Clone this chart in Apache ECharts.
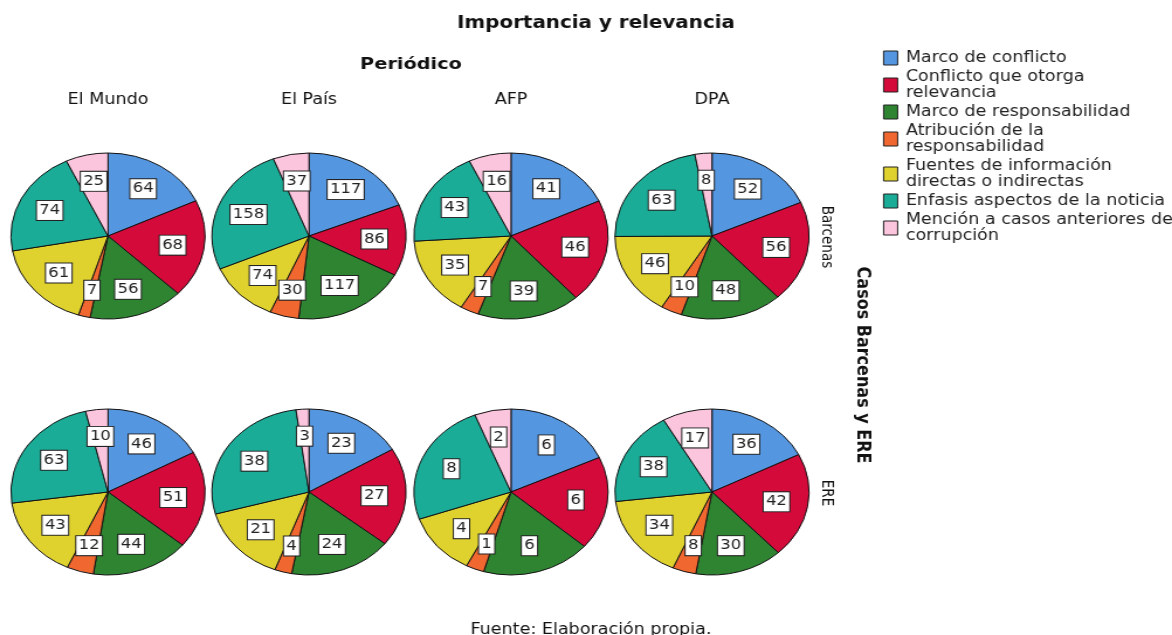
<!DOCTYPE html>
<html><head><meta charset="utf-8">
<script src="https://cdn.jsdelivr.net/npm/echarts@6/dist/echarts.min.js"></script>
<style>html,body{margin:0;padding:0;background:#fff;overflow:hidden}
#wrap{width:1172px;height:635px;overflow:hidden}
#c{width:1002px;height:635px;transform:scaleX(1.1697);transform-origin:0 0}</style>
</head><body><div id="wrap"><div id="c"></div></div>
<script>
const categories = ["Marco de conflicto","Conflicto que otorga\nrelevancia","Marco de responsabilidad","Atribución de la\nresponsabilidad","Fuentes de información\ndirectas o indirectas","Enfasis aspectos de la noticia","Mención a casos anteriores de\ncorrupción"];
const colors = ["#5596e1","#d40a3a","#2e8431","#f06830","#e0d22e","#1bac97","#fbc5dd"];
const periodicos = ["El Mundo","El País","AFP","DPA"];
const casos = ["Barcenas","ERE"];
const barcenas_ElMundo = [64,68,56,7,61,74,25];
const barcenas_ElPais = [117,86,117,30,74,158,37];
const barcenas_AFP = [41,46,39,7,35,43,16];
const barcenas_DPA = [52,56,48,10,46,63,8];
const ere_ElMundo = [46,51,44,12,43,63,10];
const ere_ElPais = [23,27,24,4,21,38,3];
const ere_AFP = [6,6,6,1,4,8,2];
const ere_DPA = [36,42,30,8,34,38,17];

const S = 1.1697; // horizontal stretch of the whole figure
const grid = [[barcenas_ElMundo,barcenas_ElPais,barcenas_AFP,barcenas_DPA],[ere_ElMundo,ere_ElPais,ere_AFP,ere_DPA]];
const colX = [108,309,511,712].map(x=>x/S);
const rowY = [236,492];
const R = 83;
const FONT = "DejaVu Sans";

const series = [];
const overlays = [];
grid.forEach((row, ri) => row.forEach((vals, ci) => {
  const data = vals.map((v,i)=>({name:categories[i], value:v, itemStyle:{color:colors[i]}}));
  series.push({
    type:'pie', center:[colX[ci], rowY[ri]], radius:R, startAngle:90, clockwise:true,
    avoidLabelOverlap:false, animation:false, silent:true,
    itemStyle:{borderColor:'#111', borderWidth:1},
    label:{show:false}, labelLine:{show:false},
    data
  });
  overlays.push({
    type:'pie', center:[colX[ci], rowY[ri]], radius:[23,R], startAngle:90, clockwise:true,
    avoidLabelOverlap:false, animation:false, silent:true,
    itemStyle:{color:'rgba(0,0,0,0)', borderWidth:0},
    label:{show:true, position:'inside', formatter:'{c}', fontFamily:FONT, fontSize:14, color:'#222',
      backgroundColor:'#fff', borderColor:'#222', borderWidth:1, padding:[3,2,2,2]},
    labelLine:{show:false},
    data: vals.map((v,i)=>({name:categories[i], value:v}))
  });
}));

const graphic = [
  {type:'text', x:596/S, y:23.5, style:{text:'Importancia y relevancia', font:'bold 17px "DejaVu Sans"', fill:'#111', align:'center', verticalAlign:'middle'}},
  {type:'text', x:411/S, y:64.5, style:{text:'Periódico', font:'bold 16.5px "DejaVu Sans"', fill:'#111', align:'center', verticalAlign:'middle'}},
  {type:'text', x:591/S, y:630, style:{text:'Fuente: Elaboración propia.', font:'15px "DejaVu Sans"', fill:'#111', align:'center', verticalAlign:'middle'}},
  {type:'text', x:862/S, y:365, rotation:-Math.PI/2, style:{text:'Casos Barcenas y ERE', font:'bold 16px "DejaVu Sans"', fill:'#111', align:'center', verticalAlign:'middle'}}
];
periodicos.forEach((p,i)=>graphic.push({type:'text', x:colX[i], y:100.5, style:{text:p, font:'15px "DejaVu Sans"', fill:'#111', align:'center', verticalAlign:'middle'}}));
casos.forEach((c,i)=>graphic.push({type:'text', x:826/S, y:rowY[i]+1, rotation:-Math.PI/2, style:{text:c, font:'13.5px "DejaVu Sans"', fill:'#111', align:'center', verticalAlign:'middle'}}));

const chart = echarts.init(document.getElementById('c'));
chart.setOption({
  animation:false,
  color: colors,
  textStyle:{fontFamily:FONT},
  legend:{
    orient:'vertical', left:883/S, top:50, padding:0, itemWidth:12, itemHeight:14, itemGap:3,
    icon:'rect', selectedMode:false,
    itemStyle:{borderColor:'#222', borderWidth:1},
    textStyle:{fontFamily:FONT, fontSize:15, color:'#222', lineHeight:16, padding:[0,0,0,2]},
    data: categories
  },
  graphic,
  series: series.concat(overlays)
});
</script></body></html>
